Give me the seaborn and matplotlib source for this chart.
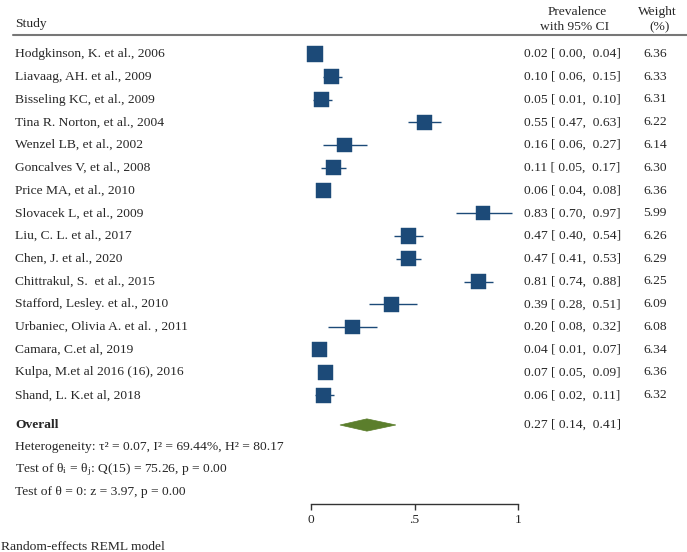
import matplotlib
matplotlib.use("Agg")
import matplotlib.pyplot as plt
import matplotlib.transforms as mtransforms
from matplotlib.patches import Polygon
import seaborn as sns
import pandas as pd

studies = [
    "Hodgkinson, K. et al., 2006",
    "Liavaag, AH. et al., 2009",
    "Bisseling KC, et al., 2009",
    "Tina R. Norton, et al., 2004",
    "Wenzel LB, et al., 2002",
    "Goncalves V, et al., 2008",
    "Price MA, et al., 2010",
    "Slovacek L, et al., 2009",
    "Liu, C. L. et al., 2017",
    "Chen, J. et al., 2020",
    "Chittrakul, S.  et al., 2015",
    "Stafford, Lesley. et al., 2010",
    "Urbaniec, Olivia A. et al. , 2011",
    "Camara, C.et al, 2019",
    "Kulpa, M.et al 2016 (16), 2016",
    "Shand, L. K.et al, 2018",
]
prevalence = [0.02, 0.10, 0.05, 0.55, 0.16, 0.11, 0.06, 0.83, 0.47, 0.47, 0.81, 0.39, 0.20, 0.04, 0.07, 0.06]
ci_low = [0.00, 0.06, 0.01, 0.47, 0.06, 0.05, 0.04, 0.70, 0.40, 0.41, 0.74, 0.28, 0.08, 0.01, 0.05, 0.02]
ci_high = [0.04, 0.15, 0.10, 0.63, 0.27, 0.17, 0.08, 0.97, 0.54, 0.53, 0.88, 0.51, 0.32, 0.07, 0.09, 0.11]
weights = [6.36, 6.33, 6.31, 6.22, 6.14, 6.30, 6.36, 5.99, 6.26, 6.29, 6.25, 6.09, 6.08, 6.34, 6.36, 6.32]
overall = 0.27
overall_low = 0.14
overall_high = 0.41
x_ticks = [0, 0.5, 1]
x_tick_labels = ["0", ".5", "1"]

sns.set_style("white")
plt.rcParams["font.family"] = ["Liberation Serif", "DejaVu Serif"]
plt.rcParams["mathtext.fontset"] = "stix"

W, H = 687, 552
BLUE = "#1c4a78"
GREEN = "#5b7e2c"
FS = 9.7

df = pd.DataFrame({"study": studies, "est": prevalence, "lo": ci_low, "hi": ci_high,
                   "w": weights, "row": list(range(len(studies)))})

fig = plt.figure(figsize=(W / 100, H / 100), dpi=100)
top_px, bot_px = 35, 504
row0, step = 54.0, 22.75

def prow(px):
    return (px - row0) / step

ax = fig.add_axes([311 / W, (H - bot_px) / H, 207 / W, (bot_px - top_px) / H])
ax.set_xlim(0, 1)
ax.set_ylim(prow(bot_px), prow(top_px))

ax.hlines(df["row"], df["lo"], df["hi"], color=BLUE, lw=1.0, zorder=2)
sns.scatterplot(data=df, x="est", y="row", size="w", sizes=(105, 125), marker="s",
                color=BLUE, edgecolor=BLUE, linewidth=0.3, legend=False, ax=ax, zorder=3,
                clip_on=False)

orow = prow(425)
h = 0.27
diamond = Polygon([(overall_low, orow), (overall, orow - h), (overall_high, orow), (overall, orow + h)],
                  closed=True, facecolor=GREEN, edgecolor=GREEN, lw=0.5, zorder=3)
ax.add_patch(diamond)

for s in ["left", "right", "top"]:
    ax.spines[s].set_visible(False)
ax.spines["bottom"].set_color("#333333")
ax.spines["bottom"].set_linewidth(1.0)
ax.set_yticks([])
ax.set_xticks(x_ticks)
ax.set_xticklabels(x_tick_labels, fontsize=FS)
ax.tick_params(axis="x", direction="out", length=4, width=1, color="#333333", pad=3, bottom=True)
ax.set_xlabel("")
ax.set_ylabel("")

tr = mtransforms.blended_transform_factory(fig.transFigure, ax.transData)

def fx(px):
    return px / W

def fmt(e, lo, hi):
    return f"{e:.2f} [ {lo:.2f},  {hi:.2f}]"

for i, r in df.iterrows():
    ax.text(fx(15), r["row"], r["study"], transform=tr, fontsize=FS, va="center", ha="left", clip_on=False)
    ax.text(fx(524), r["row"], fmt(r["est"], r["lo"], r["hi"]), transform=tr,
            fontsize=FS, va="center", ha="left", clip_on=False)
    ax.text(fx(667), r["row"], f"{r['w']:.2f}", transform=tr, fontsize=FS, va="center", ha="right", clip_on=False)

ax.text(fx(15), orow, "Overall", transform=tr, fontsize=FS, fontweight="bold", va="center", ha="left")
ax.text(fx(524), orow, fmt(overall, overall_low, overall_high), transform=tr,
        fontsize=FS, va="center", ha="left")
ax.text(fx(15), prow(447), "Heterogeneity: τ\u00b2 = 0.07, I\u00b2 = 69.44%, H\u00b2 = 80.17", transform=tr,
        fontsize=FS, va="center", ha="left")
ax.text(fx(15), prow(470), r"Test of θ$_\mathregular{i}$ = θ$_\mathregular{j}$: Q(15) = 75.26, p = 0.00",
        transform=tr, fontsize=FS, va="center", ha="left")
ax.text(fx(15), prow(492), "Test of θ = 0: z = 3.97, p = 0.00", transform=tr,
        fontsize=FS, va="center", ha="left")

# header
fig.text(fx(15), 1 - 24 / H, "Study", fontsize=FS, va="center", ha="left")
fig.text(fx(577), 1 - 12 / H, "Prevalence", fontsize=FS, va="center", ha="center")
fig.text(fx(575), 1 - 27 / H, "with 95% CI", fontsize=FS, va="center", ha="center")
fig.text(fx(657), 1 - 12 / H, "Weight", fontsize=FS, va="center", ha="center")
fig.text(fx(660), 1 - 27 / H, "(%)", fontsize=FS, va="center", ha="center")
fig.add_artist(plt.Line2D([fx(13), fx(687)], [1 - 34.5 / H, 1 - 34.5 / H], color="#777777", lw=1.5,
                          transform=fig.transFigure))

fig.text(fx(1), 1 - 547 / H, "Random-effects REML model", fontsize=FS, va="center", ha="left")

fig.savefig("out.png", dpi=100, facecolor="white")
